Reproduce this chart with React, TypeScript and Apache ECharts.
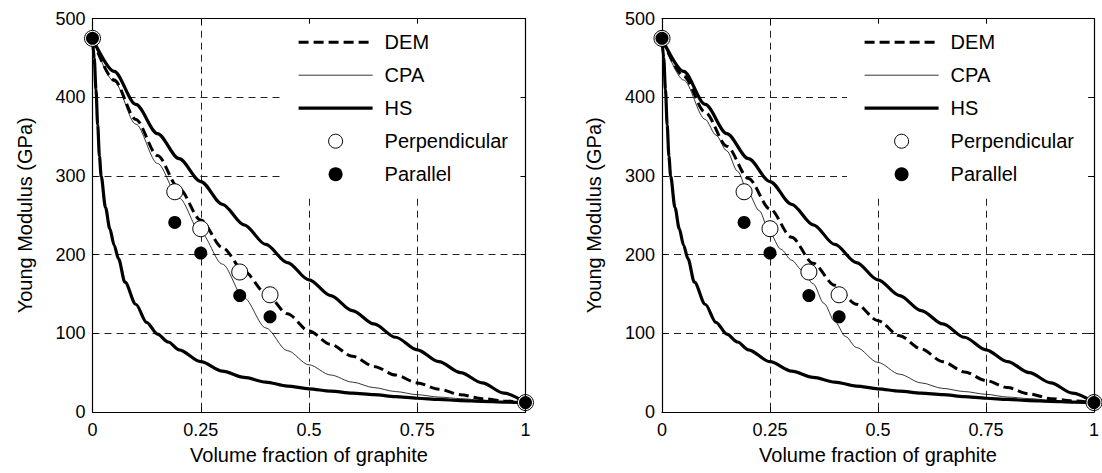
import React, { useEffect, useRef } from "react";
import * as echarts from "echarts";

// ---------- data ----------
const X_TICK_INTERVAL = 0.25;
const Y_TICK_INTERVAL = 100;

const DEM_X = [0, 0.05, 0.1, 0.15, 0.2, 0.25, 0.3, 0.35, 0.4, 0.45, 0.5, 0.55, 0.6, 0.65, 0.7, 0.75, 0.8, 0.85, 0.9, 0.95, 1];
const DEM_LEFT_Y = [475, 422, 372, 326, 284, 244, 209, 179, 151, 125, 103, 86, 71, 58, 47, 37, 29, 22, 17, 14, 12];
const DEM_RIGHT_Y = [475, 427, 381, 338, 297, 258, 222, 189, 161, 137, 116, 97, 80, 64, 51, 40, 31, 23, 17, 14, 12];

const CPA_LEFT_X = DEM_X;
const CPA_LEFT_Y = [475, 420, 366, 316, 272, 228, 188, 145, 107, 78, 60, 47, 38, 31, 26, 22, 19, 17, 15, 13, 12];

const CPA_RIGHT_X = [0, 0.05, 0.1, 0.125, 0.15, 0.175, 0.2, 0.225, 0.25, 0.275, 0.3, 0.325, 0.35, 0.375, 0.4, 0.425, 0.45, 0.5, 0.55, 0.6, 0.65, 0.7, 0.75, 0.8, 0.85, 0.9, 0.95, 1];
const CPA_RIGHT_Y = [475, 422, 372, 352, 332, 306, 278, 256, 227, 207, 193, 180, 163, 138, 115, 96, 82, 63, 48, 37, 30, 26, 22.5, 19, 17, 15, 13, 12];

const HS_UPPER_X = [0, 0.05, 0.1, 0.15, 0.2, 0.25, 0.3, 0.35, 0.4, 0.45, 0.5, 0.55, 0.6, 0.65, 0.7, 0.75, 0.8, 0.85, 0.9, 0.95, 1];
const HS_UPPER_Y = [475, 433, 391, 354, 322, 293, 264, 238, 213, 190, 168, 148, 129, 112, 95, 79, 64, 50, 37, 24, 12];

const HS_LOWER_X = [0, 0.004, 0.008, 0.012, 0.016, 0.02, 0.03, 0.04, 0.05, 0.06, 0.075, 0.1, 0.125, 0.15, 0.175, 0.2, 0.25, 0.3, 0.35, 0.4, 0.45, 0.5, 0.55, 0.6, 0.65, 0.7, 0.75, 0.8, 0.85, 0.9, 0.95, 1];
const HS_LOWER_Y = [475, 450, 410, 365, 325, 300, 260, 233, 212, 195, 165, 137, 114, 99, 89, 79, 64, 52, 44, 38, 33, 29.5, 26.5, 24, 22, 19.5, 17.5, 16, 14.5, 13.5, 12.5, 12];

const PERP_X = [0, 0.19, 0.25, 0.34, 0.41, 1];
const PERP_Y = [475, 280, 233, 178, 149, 12];
const PARA_X = [0, 0.19, 0.25, 0.34, 0.41, 1];
const PARA_Y = [475, 241, 202, 148, 121, 12];

const LEGEND_NAMES = ["DEM", "CPA", "HS", "Perpendicular", "Parallel"];
const X_NAME = "Volume fraction of graphite";
const Y_NAME = "Young Modulus (GPa)";

const zip = (xs: number[], ys: number[]) => xs.map((x, i) => [x, ys[i]]);

const FONT = "'Liberation Sans', Arial, sans-serif";

const DEM_STYLE = { color: "#000", width: 3, type: [10, 5] };
const CPA_STYLE = { color: "#000", width: 0.8, type: "solid" };
const HS_STYLE = { color: "#000", width: 3.2, type: "solid" };

export default function App() {
  const ref = useRef<HTMLDivElement>(null);

  useEffect(() => {
    if (!ref.current) return;
    const chart = echarts.init(ref.current, undefined, { renderer: "svg" });

    const grids = [
      { left: 92.5, top: 18.7, width: 433, height: 393.3 },
      { left: 662, top: 18.7, width: 435, height: 393.3 },
    ];

    const xAxes: any[] = [];
    const yAxes: any[] = [];
    grids.forEach((_, gi) => {
      xAxes.push({
        gridIndex: gi,
        type: "value",
        min: 0,
        max: 1,
        interval: X_TICK_INTERVAL,
        name: X_NAME,
        nameLocation: "middle",
        nameGap: 33,
        nameTextStyle: { fontFamily: FONT, fontSize: 20, color: "#000" },
        axisLine: { show: true, onZero: false, lineStyle: { color: "#000", width: 1.2 } },
        axisTick: { show: true, inside: true, length: 5, lineStyle: { color: "#000" } },
        axisLabel: { fontFamily: FONT, fontSize: 18, color: "#000", margin: 9, formatter: (v: number) => String(v) },
        splitLine: { show: true, lineStyle: { color: "#222", type: [7, 5], width: 1 } },
        z: 0,
      });
      xAxes.push({
        gridIndex: gi,
        type: "value",
        position: "top",
        min: 0,
        max: 1,
        interval: X_TICK_INTERVAL,
        axisLine: { show: true, onZero: false, lineStyle: { color: "#000", width: 1.2 } },
        axisTick: { show: true, inside: true, length: 5, lineStyle: { color: "#000" } },
        axisLabel: { show: false },
        splitLine: { show: false },
        z: 6,
      });
      yAxes.push({
        gridIndex: gi,
        type: "value",
        min: 0,
        max: 500,
        interval: Y_TICK_INTERVAL,
        name: Y_NAME,
        nameLocation: "middle",
        nameGap: 58,
        nameTextStyle: { fontFamily: FONT, fontSize: 20, color: "#000" },
        axisLine: { show: true, onZero: false, lineStyle: { color: "#000", width: 1.2 } },
        axisTick: { show: true, inside: true, length: 5, lineStyle: { color: "#000" } },
        axisLabel: { fontFamily: FONT, fontSize: 18, color: "#000", margin: 7 },
        splitLine: { show: true, lineStyle: { color: "#222", type: [7, 5], width: 1 } },
        z: 0,
      });
      yAxes.push({
        gridIndex: gi,
        type: "value",
        position: "right",
        min: 0,
        max: 500,
        interval: Y_TICK_INTERVAL,
        axisLine: { show: true, onZero: false, lineStyle: { color: "#000", width: 1.2 } },
        axisTick: { show: true, inside: true, length: 5, lineStyle: { color: "#000" } },
        axisLabel: { show: false },
        splitLine: { show: false },
        z: 6,
      });
    });

    const lineBase = {
      type: "line",
      symbol: "none",
      smooth: 0.3,
      smoothMonotone: "x",
      silent: true,
      color: "#000",
      z: 2,
    };

    const panelSeries = (gi: number, demY: number[], cpaX: number[], cpaY: number[]) => {
      const xi = gi * 2;
      const yi = gi * 2;
      return [
        { ...lineBase, name: "DEM", xAxisIndex: xi, yAxisIndex: yi, data: zip(DEM_X, demY), lineStyle: DEM_STYLE },
        { ...lineBase, name: "CPA", xAxisIndex: xi, yAxisIndex: yi, data: zip(cpaX, cpaY), lineStyle: CPA_STYLE },
        { ...lineBase, name: "HS", xAxisIndex: xi, yAxisIndex: yi, data: zip(HS_UPPER_X, HS_UPPER_Y), lineStyle: HS_STYLE },
        { ...lineBase, name: "HS", xAxisIndex: xi, yAxisIndex: yi, data: zip(HS_LOWER_X, HS_LOWER_Y), lineStyle: HS_STYLE },
        {
          type: "scatter", name: "Perpendicular", xAxisIndex: xi, yAxisIndex: yi, clip: false, z: 3,
          symbol: "circle", symbolSize: 16,
          itemStyle: { color: "#fff", borderColor: "#000", borderWidth: 1, opacity: 1 },
          data: zip(PERP_X, PERP_Y),
        },
        {
          type: "scatter", name: "Parallel", xAxisIndex: xi, yAxisIndex: yi, clip: false, z: 4,
          symbol: "circle", symbolSize: 13,
          itemStyle: { color: "#000", opacity: 1 },
          data: zip(PARA_X, PARA_Y),
        },
      ];
    };

    const hidden = { opacity: 0 };
    const legendData = [
      { name: LEGEND_NAMES[0], itemStyle: hidden, lineStyle: DEM_STYLE },
      { name: LEGEND_NAMES[1], itemStyle: hidden, lineStyle: CPA_STYLE },
      { name: LEGEND_NAMES[2], itemStyle: hidden, lineStyle: HS_STYLE },
      { name: LEGEND_NAMES[3], itemStyle: { color: "#fff", borderColor: "#000", borderWidth: 1, opacity: 1 } },
      { name: LEGEND_NAMES[4], itemStyle: { color: "#000", opacity: 1 } },
    ];

    const legendBase = {
      orient: "vertical",
      top: 20,
      itemWidth: 74,
      itemHeight: 14,
      itemGap: 13,
      backgroundColor: "#fff",
      borderWidth: 0,
      selectedMode: false,
      data: legendData,
      textStyle: { fontFamily: FONT, fontSize: 20, color: "#000", padding: [0, 0, 0, 7] },
      z: 4,
    };

    chart.setOption({
      animation: false,
      backgroundColor: "#fff",
      grid: grids,
      xAxis: xAxes,
      yAxis: yAxes,
      legend: [
        { ...legendBase, left: 283, padding: [12.2, 14, 11, 14] },
        { ...legendBase, left: 847, padding: [12.2, 14, 11, 16] },
      ],
      series: [
        ...panelSeries(0, DEM_LEFT_Y, CPA_LEFT_X, CPA_LEFT_Y),
        ...panelSeries(1, DEM_RIGHT_Y, CPA_RIGHT_X, CPA_RIGHT_Y),
      ],
    });

    return () => chart.dispose();
  }, []);

  return (
    <div
      ref={ref}
      style={{ position: "fixed", left: 0, top: 0, width: 1102, height: 473, background: "#fff" }}
    />
  );
}
